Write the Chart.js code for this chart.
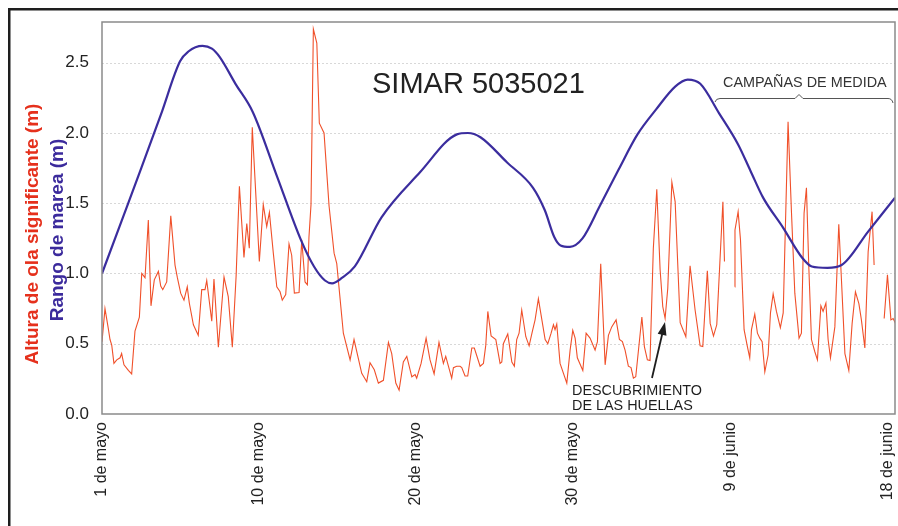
<!DOCTYPE html>
<html>
<head>
<meta charset="utf-8">
<script src="https://cdn.jsdelivr.net/npm/chart.js@4.4.1/dist/chart.umd.min.js"></script>
<style>
  html, body { margin: 0; padding: 0; background: #fff; }
  #wrap { position: relative; width: 898px; height: 526px; }
</style>
</head>
<body>
<div id="wrap"><canvas id="simarChart" width="898" height="526"></canvas></div>
<script>
// x axis in "tick units": 10 units between labelled ticks
const tickPos = [0, 10, 20, 30, 40, 50];
const tickLabels = ['1 de mayo', '10 de mayo', '20 de mayo', '30 de mayo', '9 de junio', '18 de junio'];
const yTicks = [0, 0.5, 1.0, 1.5, 2.0, 2.5];

// rango de marea (m)
const tideX = [0, 1.25, 2.5, 3.75, 4.97, 5.5, 6.4, 7.0, 7.5, 8.5, 9.6, 11.15, 12.7, 13.5, 14.2, 14.65, 15.3, 16.1, 17.8, 20.25, 22.6, 23.3, 24.1,
  25.8, 27.45, 28.2, 28.8, 29.2, 29.8, 30.6, 31.7, 32.9, 34.1, 35.3, 36.5, 37.3, 38.1, 39.3, 40.5, 41.3, 42.1, 43.35, 44.6, 45.2, 46.2, 47.1, 48.8, 50.5];
const tideR = [1.00, 1.375, 1.75, 2.13, 2.51, 2.58, 2.62, 2.60, 2.54, 2.35, 2.15, 1.69, 1.23, 1.05, 0.95, 0.93, 0.97, 1.05, 1.40, 1.72, 1.99, 2.00, 1.97,
  1.79, 1.61, 1.45, 1.26, 1.20, 1.19, 1.25, 1.48, 1.74, 1.99, 2.17, 2.33, 2.38, 2.35, 2.14, 1.92, 1.73, 1.54, 1.33, 1.11, 1.05, 1.04, 1.06, 1.30, 1.54];

// altura de ola significante (m), null = sin dato
const waveX = [0, 0.19, 0.40, 0.51, 0.62, 0.76, 0.94, 1.15, 1.25, 1.40, 1.68, 1.89, 2.10, 2.38, 2.53, 2.74, 2.95, 3.12, 3.33, 3.59,
  3.74, 3.87, 4.12, 4.38, 4.65, 4.80, 5.01, 5.22, 5.43, 5.56, 5.82, 6.13, 6.35, 6.56, 6.67, 6.99, 7.13, 7.41, 7.77, 8.04,
  8.30, 8.54, 8.75, 9.04, 9.22, 9.38, 9.57, 10.02, 10.27, 10.49, 10.66, 10.91, 11.13, 11.34, 11.48, 11.70, 11.91, 12.08, 12.25, 12.55,
  12.72, 12.93, 13.08, 13.18, 13.31, 13.46, 13.68, 13.84, 14.14, 14.46, 14.78, 14.95, 15.37, 15.80, 16.05, 16.54, 16.86, 17.07, 17.34, 17.60,
  17.92, 18.24, 18.45, 18.71, 18.92, 19.19, 19.41, 19.73, 19.94, 20.04, 20.32, 20.64, 20.89, 21.15, 21.46, 21.74, 21.89, 22.27, 22.38, 22.59,
  22.80, 22.91, 23.12, 23.29, 23.55, 23.71, 24.08, 24.29, 24.44, 24.57, 24.78, 25.08, 25.35, 25.46, 25.56, 25.84, 26.10, 26.26, 26.41, 26.56,
  26.73, 26.99, 27.20, 27.41, 27.58, 27.79, 27.96, 28.22, 28.39, 28.60, 28.75, 28.85, 28.96, 29.17, 29.60, 29.81, 29.98, 30.13, 30.27, 30.62,
  30.83, 31.08, 31.40, 31.55, 31.76, 32.04, 32.25, 32.46, 32.74, 32.95, 33.14, 33.31, 33.52, 33.69, 33.84, 33.99, 34.38, 34.54, 34.73, 34.90,
  35.11, 35.33, 35.54, 35.71, 35.86, 36.03, 36.29, 36.50, 36.82, 37.18, 37.45, 37.77, 38.09, 38.26, 38.55, 38.73, 38.94, 39.15, 39.54, 39.64,
  40.0, 40.30, 40.31, 40.51, 40.66, 40.89, 41.10, 41.25, 41.36, 41.57, 41.74, 41.89, 42.04, 42.21, 42.42, 42.57, 42.74, 42.95, 43.20, 43.38,
  43.69, 43.90, 44.12, 44.39, 44.54, 44.71, 44.86, 45.01, 45.18, 45.39, 45.56, 45.78, 45.92, 46.10, 46.24, 46.39, 46.67, 46.92, 47.09, 47.31,
  47.56, 47.77, 47.98, 48.20, 48.36, 48.58, 48.79, 49.04, 49.17, 49.5, 49.81, 50.02, 50.24, 50.38, 50.53];
const waveH = [0.515, 0.75, 0.61, 0.53, 0.49, 0.36, 0.385, 0.40, 0.43, 0.35, 0.31, 0.285, 0.59, 0.69, 1.00, 0.97, 1.38, 0.77, 0.955, 1.015,
  0.91, 0.885, 0.94, 1.41, 1.06, 0.97, 0.86, 0.81, 0.905, 0.79, 0.635, 0.56, 0.885, 0.885, 0.95, 0.66, 0.96, 0.475, 0.975, 0.835,
  0.475, 0.98, 1.62, 1.115, 1.355, 1.18, 2.04, 1.085, 1.49, 1.335, 1.435, 1.145, 0.905, 0.87, 0.81, 0.85, 1.21, 1.13, 0.86, 0.865,
  1.24, 0.94, 0.92, 1.26, 1.49, 2.74, 2.64, 2.07, 2.00, 1.48, 1.145, 1.07, 0.575, 0.385, 0.53, 0.29, 0.23, 0.365, 0.315, 0.22,
  0.24, 0.51, 0.43, 0.22, 0.17, 0.37, 0.41, 0.265, 0.28, 0.255, 0.36, 0.54, 0.385, 0.285, 0.51, 0.36, 0.41, 0.255, 0.33, 0.34,
  0.34, 0.33, 0.27, 0.27, 0.47, 0.47, 0.34, 0.36, 0.49, 0.73, 0.555, 0.53, 0.36, 0.37, 0.50, 0.57, 0.37, 0.34, 0.53, 0.575,
  0.74, 0.55, 0.485, 0.59, 0.67, 0.82, 0.705, 0.53, 0.50, 0.575, 0.635, 0.60, 0.64, 0.36, 0.22, 0.455, 0.595, 0.54, 0.40, 0.31,
  0.575, 0.54, 0.455, 0.515, 1.07, 0.35, 0.56, 0.62, 0.67, 0.53, 0.515, 0.455, 0.34, 0.33, 0.255, 0.265, 0.69, 0.48, 0.385, 0.38,
  1.18, 1.60, 1.03, 0.765, 0.68, 0.895, 1.65, 1.51, 0.65, 0.55, 1.055, 0.74, 0.485, 0.48, 1.02, 0.645, 0.555, 0.635, 1.51, 1.085,
  null, 0.905, 1.31, 1.44, 1.24, 0.60, 0.48, 0.40, 0.60, 0.71, 0.575, 0.54, 0.515, 0.30, 0.42, 0.72, 0.855, 0.73, 0.615, 0.72,
  2.08, 1.455, 0.86, 0.54, 0.575, 1.43, 1.61, 1.05, 0.53, 0.445, 0.385, 0.77, 0.73, 0.79, 0.53, 0.40, 0.62, 1.35, 0.955, 0.43,
  0.31, 0.645, 0.87, 0.785, 0.67, 0.47, 1.155, 1.44, 1.06, null, 0.68, 0.99, 0.67, 0.68, 0.645];

const FONT = '"Liberation Sans", Arial, Helvetica, sans-serif';

const framePlugin = {
  id: 'frame',
  beforeDraw(chart) {
    const ctx = chart.ctx;
    ctx.save();
    ctx.fillStyle = '#1e1e1e';
    ctx.fillRect(8, 8, 890, 2.5);
    ctx.fillRect(8, 8, 2.5, 518);
    ctx.restore();
  },
  beforeDatasetsDraw(chart) {
    const { ctx, chartArea: a, scales: { y } } = chart;
    ctx.save();
    ctx.strokeStyle = '#d8d8d8';
    ctx.lineWidth = 1;
    ctx.setLineDash([2, 2]);
    yTicks.slice(1).forEach(v => {
      const py = Math.round(y.getPixelForValue(v)) + 0.5;
      ctx.beginPath();
      ctx.moveTo(a.left, py);
      ctx.lineTo(a.right, py);
      ctx.stroke();
    });
    ctx.restore();
  },
  afterDraw(chart) {
    const { ctx, chartArea: a } = chart;
    ctx.save();
    // plot frame
    ctx.strokeStyle = '#8a8a8a';
    ctx.lineWidth = 1.5;
    ctx.strokeRect(a.left, a.top, a.right - a.left, a.bottom - a.top);

    // axis titles
    ctx.font = 'bold 19px ' + FONT;
    ctx.textAlign = 'center';
    ctx.textBaseline = 'middle';
    ctx.translate(33, 234);
    ctx.rotate(-Math.PI / 2);
    ctx.fillStyle = '#e5301c';
    ctx.fillText('Altura de ola significante (m)', 0, 0);
    ctx.setTransform(1, 0, 0, 1, 0, 0);
    ctx.translate(58, 230);
    ctx.rotate(-Math.PI / 2);
    ctx.fillStyle = '#3b2a9c';
    ctx.fillText('Rango de marea (m)', 0, 0);
    ctx.setTransform(1, 0, 0, 1, 0, 0);

    // title
    ctx.fillStyle = '#222';
    ctx.font = '29px ' + FONT;
    ctx.textAlign = 'left';
    ctx.textBaseline = 'alphabetic';
    ctx.fillText('SIMAR 5035021', 372, 93);

    // campañas de medida
    ctx.font = '14.4px ' + FONT;
    ctx.fillStyle = '#333';
    ctx.fillText('CAMPAÑAS DE MEDIDA', 723, 87);
    ctx.strokeStyle = '#555';
    ctx.lineWidth = 1;
    ctx.beginPath();
    ctx.moveTo(715, 102);
    ctx.quadraticCurveTo(716, 98.5, 720, 98.5);
    ctx.lineTo(795, 98.5);
    ctx.lineTo(799, 94.5);
    ctx.lineTo(803, 98.5);
    ctx.lineTo(888, 98.5);
    ctx.quadraticCurveTo(892, 98.5, 893, 103);
    ctx.stroke();

    // descubrimiento
    ctx.fillStyle = '#1e1e1e';
    ctx.fillText('DESCUBRIMIENTO', 572, 395);
    ctx.fillText('DE LAS HUELLAS', 572, 410);
    const x0 = 652, y0 = 378, x1 = 665, y1 = 322;
    const ang = Math.atan2(y1 - y0, x1 - x0);
    ctx.strokeStyle = '#1e1e1e';
    ctx.lineWidth = 1.8;
    ctx.beginPath();
    ctx.moveTo(x0, y0);
    ctx.lineTo(x1 - 10 * Math.cos(ang), y1 - 10 * Math.sin(ang));
    ctx.stroke();
    ctx.beginPath();
    ctx.moveTo(x1, y1);
    ctx.lineTo(x1 - 13 * Math.cos(ang) + 4.5 * Math.sin(ang), y1 - 13 * Math.sin(ang) - 4.5 * Math.cos(ang));
    ctx.lineTo(x1 - 13 * Math.cos(ang) - 4.5 * Math.sin(ang), y1 - 13 * Math.sin(ang) + 4.5 * Math.cos(ang));
    ctx.closePath();
    ctx.fill();
    ctx.restore();
  }
};

const tideData = tideX.map((x, i) => ({ x: x, y: tideR[i] }));
const waveData = waveX.map((x, i) => ({ x: x, y: waveH[i] }));

const config = {
  type: 'line',
  data: {
    datasets: [{
      label: 'Rango de marea (m)',
      data: tideData,
      borderColor: '#3b2d9e',
      borderWidth: 2.2,
      pointRadius: 0,
      cubicInterpolationMode: 'monotone',
      fill: false
    }, {
      label: 'Altura de ola significante (m)',
      data: waveData,
      borderColor: '#f0502a',
      borderWidth: 1.1,
      pointRadius: 0,
      tension: 0,
      spanGaps: false,
      fill: false
    }]
  },
  options: {
    responsive: false,
    animation: false,
    layout: { padding: { left: 10, top: 22, right: 3, bottom: 0 } },
    plugins: { legend: { display: false }, tooltip: { enabled: false } },
    scales: {
      x: {
        type: 'linear',
        min: 0,
        max: 50.5,
        afterBuildTicks: s => { s.ticks = tickPos.map(v => ({ value: v })); },
        afterFit: s => { s.height = 112; s.paddingLeft = 0; s.paddingRight = 0; },
        ticks: {
          autoSkip: false,
          minRotation: 90,
          maxRotation: 90,
          padding: 8,
          color: '#222',
          font: { family: FONT, size: 16 },
          callback: (v, i) => tickLabels[i]
        },
        grid: { display: false, drawTicks: false },
        border: { display: false }
      },
      y: {
        min: 0,
        max: 2.79,
        afterBuildTicks: s => { s.ticks = yTicks.map(v => ({ value: v })); },
        afterFit: s => { s.width = 92; s.paddingTop = 0; s.paddingBottom = 0; },
        ticks: {
          padding: 13,
          color: '#222',
          font: { family: FONT, size: 17 },
          callback: v => v.toFixed(1)
        },
        grid: { display: false, drawTicks: false },
        border: { display: false }
      }
    }
  },
  plugins: [framePlugin]
};

const simarChart = new Chart(document.querySelector('#simarChart').getContext('2d'), config);
</script>
</body>
</html>
